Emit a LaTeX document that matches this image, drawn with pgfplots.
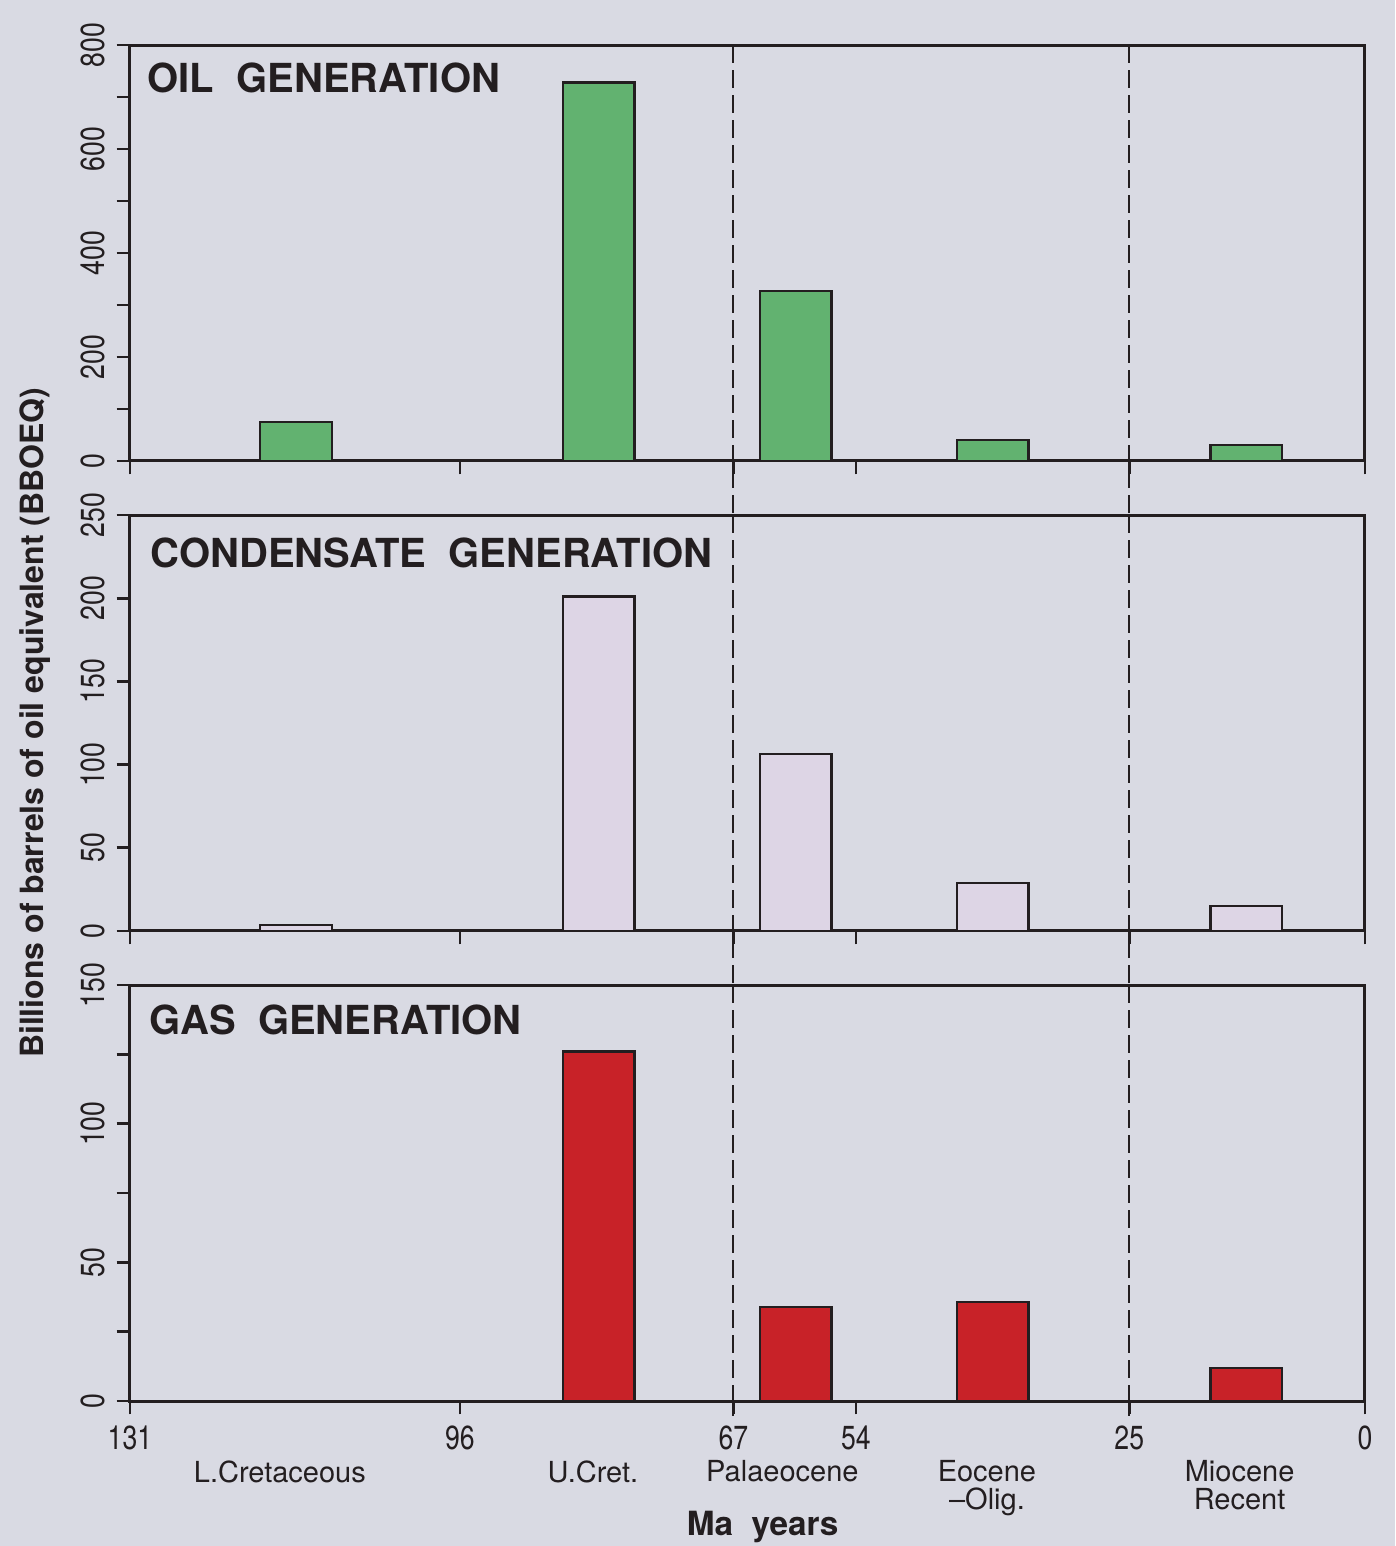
\documentclass[border=0pt]{standalone}
\usepackage{fontspec}
\setmainfont{TeX Gyre Heros}
\newfontfamily\narrowsf{TeX Gyre Heros}[FakeStretch=0.8]
\usepackage{pgfplots}
\pgfplotsset{compat=1.18}

\definecolor{bg}{RGB}{217,218,227}
\definecolor{ink}{RGB}{35,30,32}
\definecolor{oilgreen}{RGB}{98,178,112}
\definecolor{condlav}{RGB}{221,213,229}
\definecolor{gasred}{RGB}{200,34,40}

\pgfplotsset{
  panel/.style={
    scale only axis, width=370.5pt, height=124.8pt,
    anchor=south west,
    xmin=0, xmax=131, x dir=reverse, ymin=0,
    xtick={0,25,54,67,96,131},
    axis line style={ink, line width=0.9pt},
    every tick/.style={ink, line width=0.8pt},
    tick align=outside, xtick pos=lower, ytick pos=left,
    major tick length=4pt, minor tick length=4pt,
    ybar, bar width=7.6,
    clip=false,
    /pgf/number format/assume math mode=true,
    yticklabel style={rotate=90, anchor=south, font=\narrowsf\fontsize{10}{11}\selectfont, text=ink},
    xticklabel style={font=\narrowsf\fontsize{10}{11}\selectfont, text=ink},
    every axis plot/.append style={draw=ink, line width=0.7pt},
  },
}
\tikzset{
  ptitle/.style={anchor=north west, inner sep=0pt, text=ink,
    font=\bfseries\fontsize{12}{13}\selectfont},
  plabel/.style={anchor=north, align=center, inner sep=0pt, text=ink,
    font=\fontsize{8.7}{8.2}\selectfont},
  epoch/.style={ink, line width=0.6pt, dash pattern=on 5.5pt off 2pt},
}

\begin{document}
\begin{tikzpicture}
\fill[bg] (-39pt,-43.5pt) rectangle (379.5pt,420.3pt);

% oil
\begin{axis}[panel, at={(0,282pt)}, ymax=800,
  ytick={0,200,400,600,800}, minor ytick={100,300,500,700},
  xticklabels={}]
\addplot[fill=oilgreen] coordinates {(113.4,75) (81.3,728) (60.4,327) (39.5,40) (12.6,31)};
\draw[epoch] (axis cs:67,800) -- (axis cs:67,-104);
\draw[epoch] (axis cs:25,800) -- (axis cs:25,-104);
\node[ptitle] at ([xshift=5.1pt,yshift=-5.1pt]axis description cs:0,1) {OIL\ \ GENERATION};
\end{axis}

% condensate
\begin{axis}[panel, at={(0,141pt)}, ymax=250,
  ytick={0,50,100,150,200,250},
  xticklabels={}]
\addplot[fill=condlav] coordinates {(113.4,3.5) (81.3,201) (60.4,106.5) (39.5,29) (12.6,15)};
\draw[epoch] (axis cs:67,250) -- (axis cs:67,-32.5);
\draw[epoch] (axis cs:25,250) -- (axis cs:25,-32.5);
\node[ptitle] at ([xshift=6pt,yshift=-6.6pt]axis description cs:0,1) {CONDENSATE\ \ GENERATION};
\node[rotate=90, anchor=center, text=ink, font=\bfseries\fontsize{9.6}{11}\selectfont]
  at ([xshift=-28.5pt]axis description cs:0,0.5) {Billions of barrels of oil equivalent (BBOEQ)};
\end{axis}

% gas
\begin{axis}[panel, at={(0,0)}, ymax=150,
  ytick={0,50,100,150}, minor ytick={25,75,125}]
\addplot[fill=gasred] coordinates {(81.3,126) (60.4,34) (39.5,35.6) (12.6,12)};
\draw[epoch] (axis cs:67,150) -- (axis cs:67,-5.4);
\draw[epoch] (axis cs:25,150) -- (axis cs:25,-5.4);
\node[ptitle] at ([xshift=5.7pt,yshift=-5.7pt]axis description cs:0,1) {GAS\ \ GENERATION};
\node[plabel] at ([yshift=-17.7pt]axis cs:115.1,0) {L.Cretaceous};
\node[plabel] at ([yshift=-17.7pt]axis cs:81.9,0) {U.Cret.};
\node[plabel] at ([yshift=-17.7pt]axis cs:61.8,0) {Palaeocene};
\node[plabel] at ([yshift=-17.7pt]axis cs:40.1,0) {Eocene\\--Olig.};
\node[plabel] at ([yshift=-17.7pt]axis cs:13.3,0) {Miocene\\Recent};
\node[anchor=base, text=ink, font=\bfseries\fontsize{10}{12}\selectfont]
  at ([yshift=-40.2pt]axis cs:63.9,0) {Ma\ \ years};
\end{axis}

\pgfresetboundingbox
\path[use as bounding box] (-39pt,-43.5pt) rectangle (379.5pt,420.3pt);
\end{tikzpicture}
\end{document}
